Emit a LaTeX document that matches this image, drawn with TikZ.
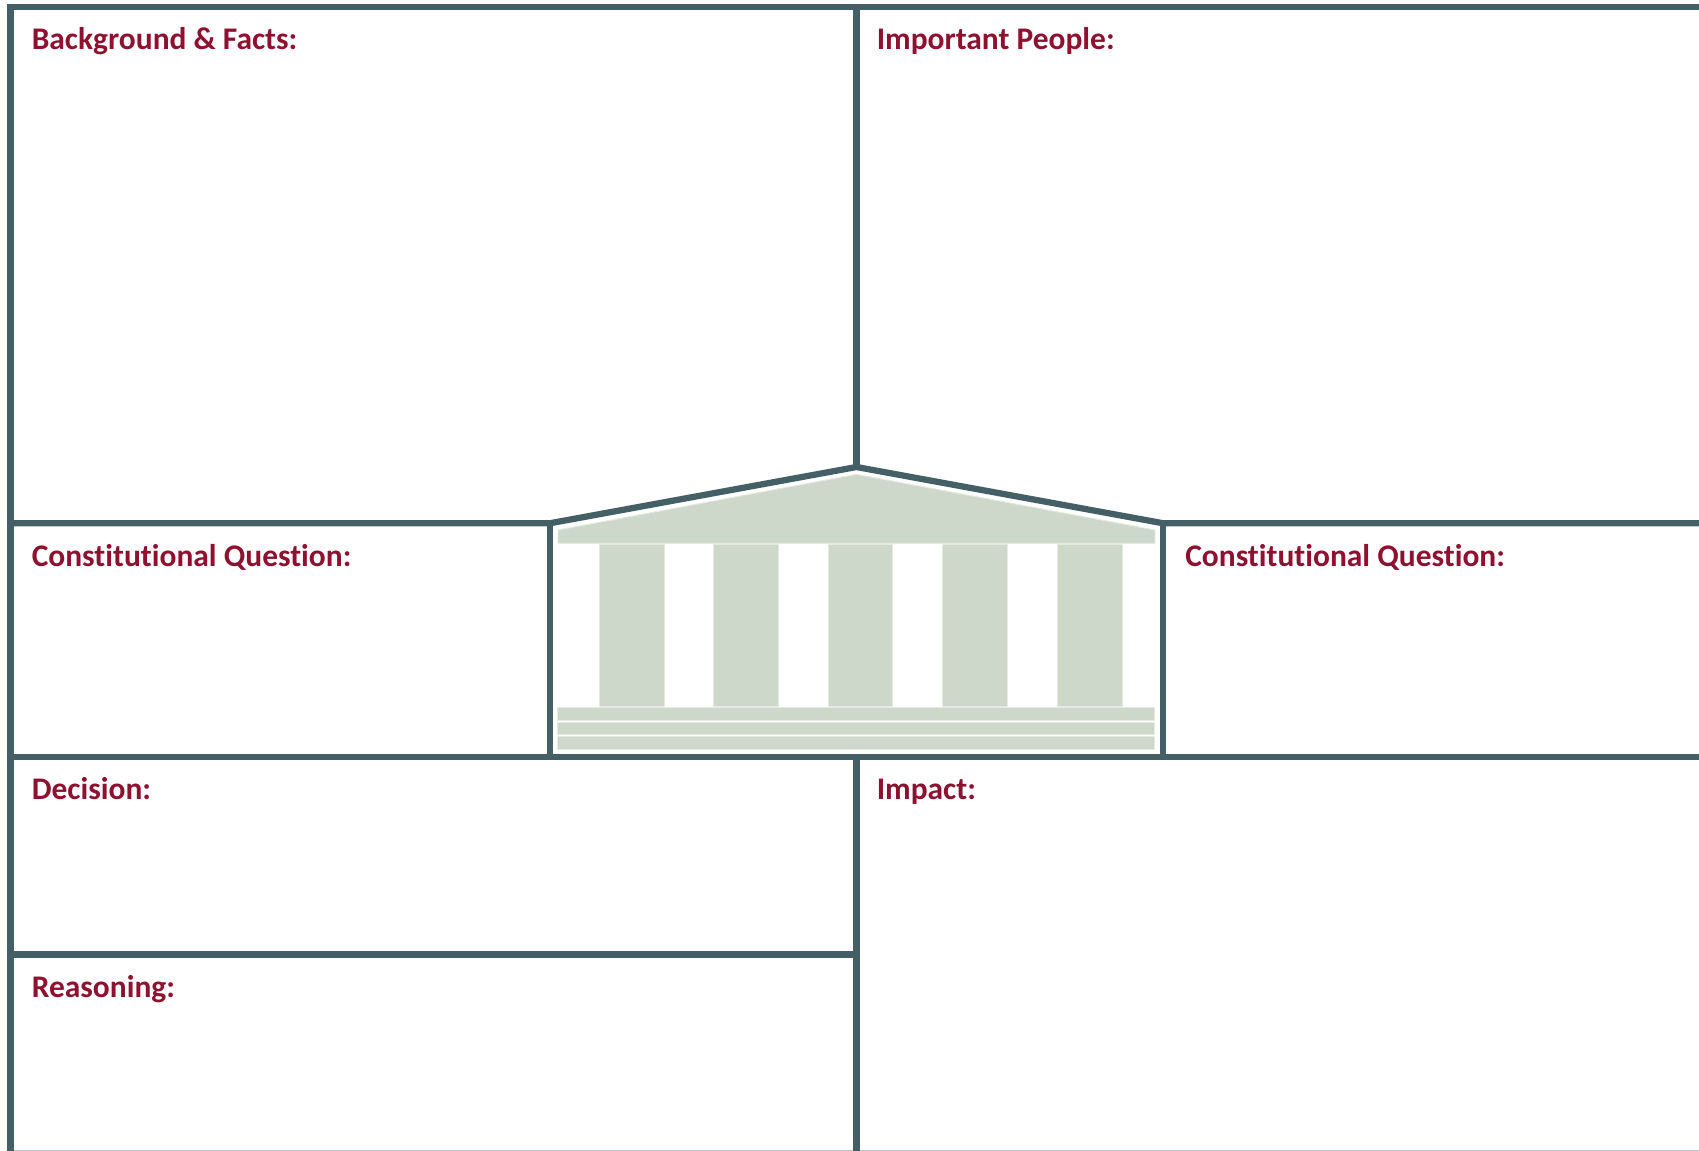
\documentclass[tikz,border=0pt]{standalone}
\usepackage{fontspec}
\setmainfont[Ligatures=NoCommon]{Carlito}
\definecolor{frameC}{HTML}{446066}
\definecolor{labelC}{HTML}{8E1230}
\definecolor{templeC}{HTML}{CED8CA}
\definecolor{templeE}{HTML}{E6EBE2}
\definecolor{edgeC}{HTML}{B9C6C6}
\tikzset{
  frame/.style={draw=frameC,line width=5.2pt,line join=miter,line cap=butt},
  thinframe/.style={draw=frameC,line width=4.7pt,line join=miter,line cap=butt},
  temple/.style={fill=templeC,draw=templeE,line width=0.7pt},
  lbl/.style={anchor=base west,inner sep=0pt,text=labelC,font=\fontsize{23.6pt}{27pt}\selectfont\bfseries}
}
\begin{document}
\begin{tikzpicture}[x=0.75pt,y=-0.75pt]
\useasboundingbox[fill=white] (0,0) rectangle (1699,1151);
% bottom hairline
\draw[draw=edgeC,line width=0.9pt] (13,1150.3) -- (1699,1150.3);
% frame coordinates
\coordinate (tl) at (10.5,7);
\coordinate (tr) at (1699,7);
\coordinate (bl) at (10.5,1151);
\coordinate (apex) at (856.5,467);
\coordinate (el) at (549.7,523.3);
\coordinate (er) at (1163.3,523.3);
\coordinate (ml) at (10.5,523.3);
\coordinate (mr) at (1699,523.3);
\coordinate (sl) at (10.5,756.7);
\coordinate (sr) at (1699,756.7);
\coordinate (cb) at (856.5,756.7);
\coordinate (cl) at (549.7,756.7);
\coordinate (crb) at (1163.3,756.7);
\coordinate (tc) at (856.5,7);
\coordinate (bc) at (856.5,1151);
\coordinate (rl) at (10.5,954.5);
\coordinate (rr) at (856.5,954.5);
% frame
\draw[frame] (tr) -- (tl) -- (bl);
\draw[frame] (tc) -- (apex);
\draw[frame] (cb) -- (bc);
\draw[thinframe] (sl) -- (sr);
\draw[thinframe] (rl) -- (rr);
\draw[thinframe] (ml) -- (el) -- (apex) -- (er) -- (mr);
\draw[thinframe] (el) -- (cl);
\draw[thinframe] (er) -- (crb);
% temple
\draw[temple] (558,530) -- (856.5,474.3) -- (1155,530) -- (1155,543.3) -- (558,543.3) -- cycle;
\foreach \a/\b in {599/664,713.7/778.3,828.3/892.7,942.7/1007.7,1057.3/1122.3}
  \draw[temple] (\a,544.5) rectangle (\b,706.7);
\draw[temple] (557,707.7) rectangle (1154,720.7);
\draw[temple] (557,722) rectangle (1154,734.7);
\draw[temple] (557,736) rectangle (1154,749);
% labels
\node[lbl] (bg) at (31.5,50) {Background \& Facts:};
\node[lbl] (people) at (876.5,50) {Important People:};
\node[lbl] (cq1) at (31.5,566.5) {Constitutional Question:};
\node[lbl] (cq2) at (1185,566.5) {Constitutional Question:};
\node[lbl] (dec) at (31.5,799.5) {Decision:};
\node[lbl] (imp) at (876.5,799.5) {Impact:};
\node[lbl] (rea) at (31.5,997) {Reasoning:};
\end{tikzpicture}
\end{document}
